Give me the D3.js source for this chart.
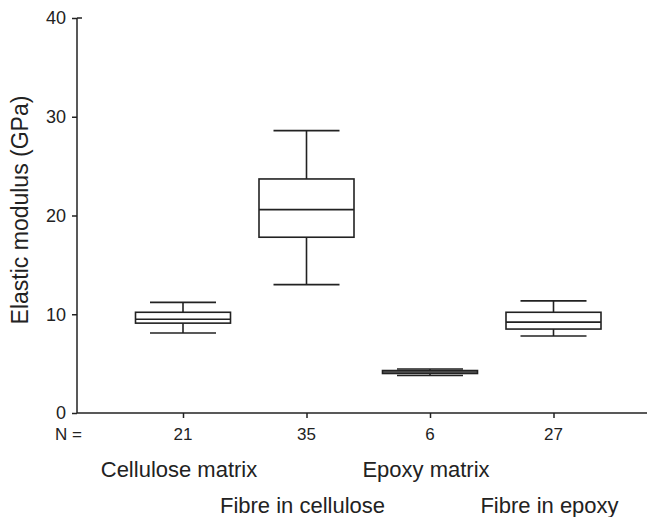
<!DOCTYPE html>
<html>
<head>
<meta charset="utf-8">
<script src="https://cdn.jsdelivr.net/npm/d3@7"></script>
<style>
  body { margin: 0; background: #fff; }
  svg text { font-family: "Liberation Sans", Arial, sans-serif; fill: #222; }
</style>
</head>
<body>
<svg id="chart" width="648" height="517"></svg>
<script>
// groups in plot order
const groups = ['Cellulose matrix', 'Fibre in cellulose', 'Epoxy matrix', 'Fibre in epoxy'];
const counts = [21, 35, 6, 27];
// box stats (GPa)
const whiskerLow = [8.1, 13.0, 3.8, 7.8];
const q1 = [9.1, 17.8, 4.0, 8.5];
const median = [9.5, 20.6, 4.15, 9.2];
const q3 = [10.2, 23.7, 4.3, 10.2];
const whiskerHigh = [11.2, 28.6, 4.45, 11.35];
const yTicks = [0, 10, 20, 30, 40];

const svg = d3.select('#chart');
const ink = '#222';

const x = d3.scalePoint().domain(groups).range([183, 553.5]);
const y = d3.scaleLinear().domain([0, 40]).range([413, 18]);

const boxW = 95, capW = 66;

// axes
const yAxis = d3.axisLeft(y).tickValues(yTicks).tickSize(5).tickPadding(6);
const gy = svg.append('g').attr('transform', 'translate(77,0)').call(yAxis);
gy.select('.domain').remove();
gy.append('line').attr('x1', 0).attr('x2', 0).attr('y1', y(40)).attr('y2', y(0))
  .attr('stroke', ink).attr('stroke-width', 1.5);
gy.append('line').attr('x1', 0).attr('x2', 5).attr('y1', y(40)).attr('y2', y(40))
  .attr('stroke', ink).attr('stroke-width', 1.5);
gy.selectAll('.tick line').attr('stroke', ink).attr('stroke-width', 1.5);
gy.selectAll('.tick text').attr('font-size', 18).attr('fill', ink)
  .attr('font-family', '"Liberation Sans", Arial, sans-serif');

const xAxis = d3.axisBottom(x).tickSize(5).tickFormat('');
const gx = svg.append('g').attr('transform', `translate(0,${y(0)})`).call(xAxis);
gx.select('.domain').remove();
gx.append('line').attr('x1', 77).attr('x2', 647).attr('y1', 0).attr('y2', 0)
  .attr('stroke', ink).attr('stroke-width', 1.5);
gx.selectAll('.tick line').attr('stroke', ink).attr('stroke-width', 1.5);

// N row
svg.append('text').attr('x', 55).attr('y', 440).attr('font-size', 17).text('N =');
svg.selectAll('.n').data(groups).enter().append('text')
  .attr('class', 'n')
  .attr('x', d => x(d))
  .attr('y', 440)
  .attr('text-anchor', 'middle')
  .attr('font-size', 17)
  .text((d, i) => counts[i]);

// group labels, staggered on two rows
svg.selectAll('.glabel').data(groups).enter().append('text')
  .attr('class', 'glabel')
  .attr('x', d => x(d) - 4)
  .attr('y', (d, i) => i % 2 === 0 ? 477 : 513)
  .attr('text-anchor', 'middle')
  .attr('font-size', 22)
  .text(d => d);

// y title
svg.append('text')
  .attr('transform', 'translate(28,210) rotate(-90)')
  .attr('text-anchor', 'middle')
  .attr('font-size', 23)
  .text('Elastic modulus (GPa)');

// boxes
const box = svg.selectAll('.box').data(groups).enter().append('g')
  .attr('class', 'box')
  .attr('stroke', ink)
  .attr('stroke-width', 1.6)
  .attr('fill', 'none');

box.append('line')
  .attr('x1', d => x(d)).attr('x2', d => x(d))
  .attr('y1', (d, i) => y(whiskerHigh[i])).attr('y2', (d, i) => y(q3[i]));
box.append('line')
  .attr('x1', d => x(d)).attr('x2', d => x(d))
  .attr('y1', (d, i) => y(q1[i])).attr('y2', (d, i) => y(whiskerLow[i]));
box.append('line')
  .attr('x1', d => x(d) - capW / 2).attr('x2', d => x(d) + capW / 2)
  .attr('y1', (d, i) => y(whiskerHigh[i])).attr('y2', (d, i) => y(whiskerHigh[i]));
box.append('line')
  .attr('x1', d => x(d) - capW / 2).attr('x2', d => x(d) + capW / 2)
  .attr('y1', (d, i) => y(whiskerLow[i])).attr('y2', (d, i) => y(whiskerLow[i]));
box.append('rect')
  .attr('x', d => x(d) - boxW / 2)
  .attr('width', boxW)
  .attr('y', (d, i) => y(q3[i]))
  .attr('height', (d, i) => y(q1[i]) - y(q3[i]))
  .attr('fill', '#fff');
box.append('line')
  .attr('x1', d => x(d) - boxW / 2).attr('x2', d => x(d) + boxW / 2)
  .attr('y1', (d, i) => y(median[i])).attr('y2', (d, i) => y(median[i]));
</script>
</body>
</html>
